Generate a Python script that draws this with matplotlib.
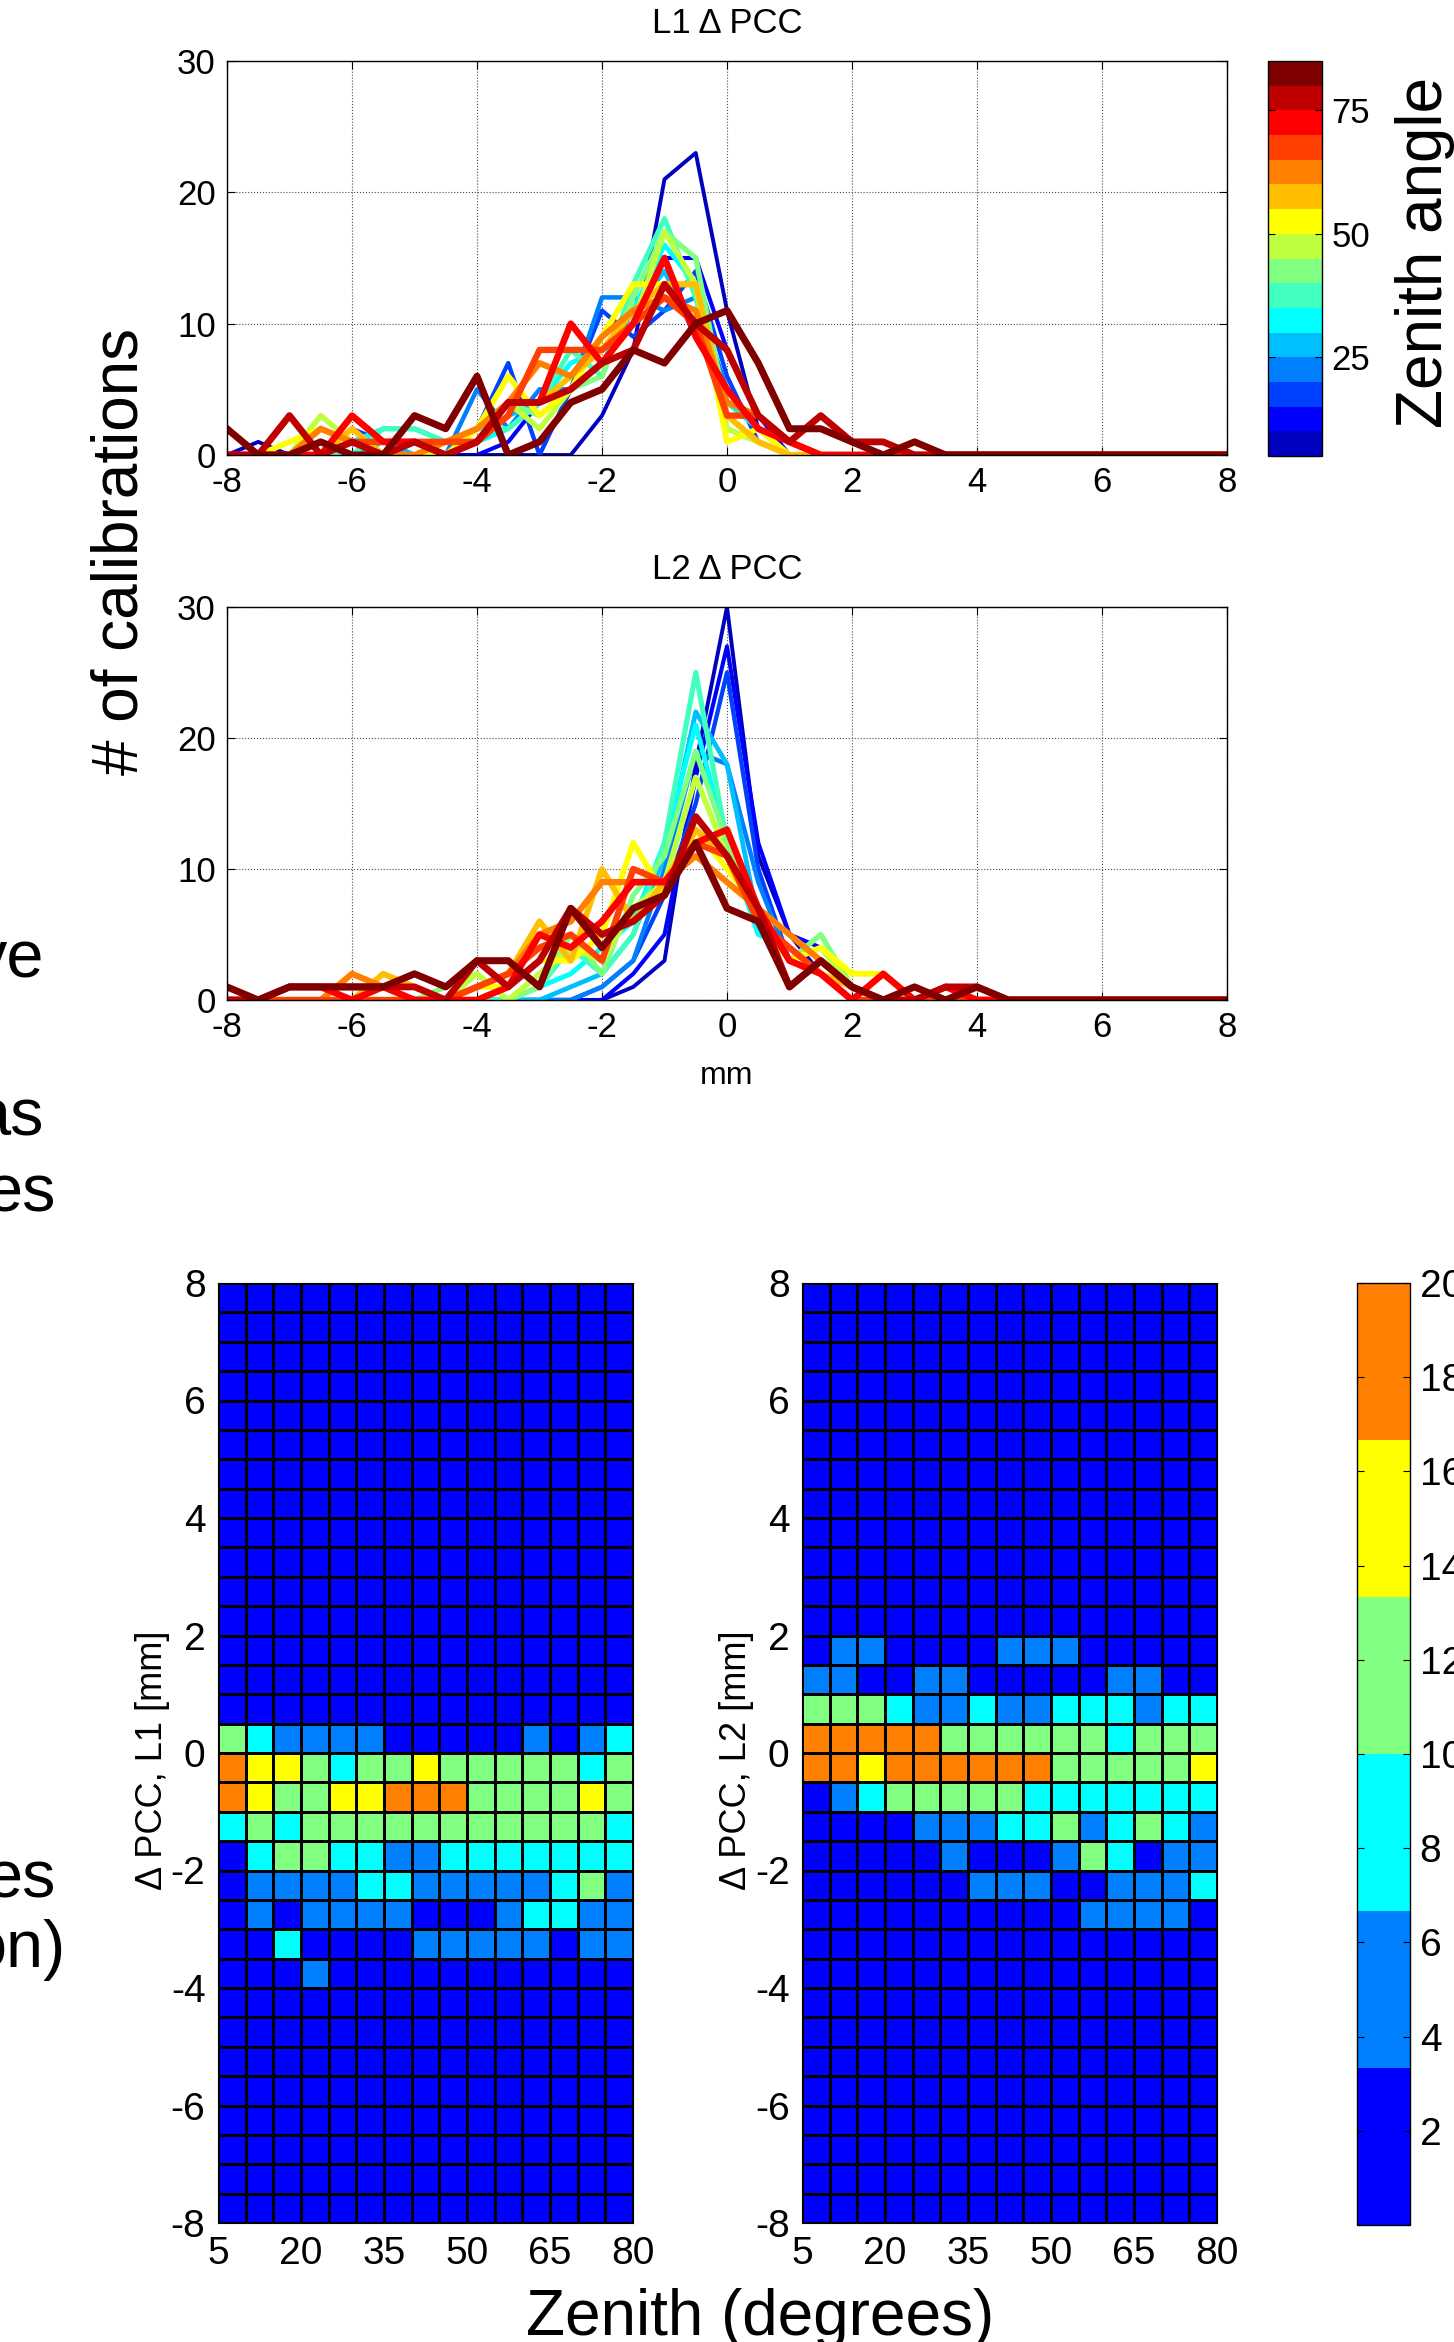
import numpy as np
import matplotlib
matplotlib.use('Agg')
import matplotlib.pyplot as plt
from matplotlib.colors import ListedColormap, Normalize
from matplotlib.cm import ScalarMappable

plt.rcParams['font.family'] = ['Liberation Sans', 'DejaVu Sans']
plt.rcParams['axes.unicode_minus'] = False

# delta PCC bins (mm) and zenith bins (deg)
offsets = np.arange(-8, 8.01, 0.5)
zen_edges = np.arange(5, 81, 5)

# number of calibrations per offset bin, one row per 5-deg zenith bin (5..80)
l1_counts = [
    [0,1,0,0,0,0,0,0,0,0,0,0,3,8,21,23,11,2,0,0,0,0,0,0,0,0,0,0,0,0,0,0,0],
    [0,0,0,0,1,0,0,0,0,1,4,5,7,11,15,15,8,3,0,0,0,0,0,0,0,0,0,0,0,0,0,0,0],
    [0,0,0,0,2,1,0,0,2,7,0,5,11,9,11,14,6,1,0,0,0,0,0,0,0,0,0,0,0,0,0,0,0],
    [0,0,0,0,1,0,1,0,5,2,5,5,12,12,11,12,5,2,0,0,0,0,0,0,0,0,0,0,0,0,0,0,0],
    [0,0,0,0,0,1,0,0,1,3,4,5,7,11,14,9,5,2,0,0,0,0,0,0,0,0,0,0,0,0,0,0,0],
    [0,0,0,0,1,2,2,1,1,2,4,7,8,11,16,13,4,2,0,0,0,0,0,0,0,0,0,0,0,0,0,0,0],
    [0,0,0,0,0,2,2,1,2,2,4,8,6,13,18,12,2,1,0,0,0,0,0,0,0,0,0,0,0,0,0,0,0],
    [0,0,0,0,1,0,1,0,2,4,3,5,6,12,17,15,3,1,0,0,0,0,0,0,0,0,0,0,0,0,0,0,0],
    [0,0,0,3,1,0,0,0,1,4,2,5,7,10,17,13,2,1,0,0,0,0,0,0,0,0,0,0,0,0,0,0,0],
    [0,0,1,2,1,0,0,0,2,6,3,5,9,13,13,13,1,2,0,0,0,0,0,0,0,0,0,0,0,0,0,0,0],
    [0,0,0,0,2,0,1,0,1,4,4,6,8,11,13,13,3,1,0,0,0,0,0,0,0,0,0,0,0,0,0,0,0],
    [0,0,0,2,1,0,0,1,2,4,7,6,9,11,12,11,4,3,1,0,0,0,0,0,0,0,0,0,0,0,0,0,0],
    [0,0,0,0,1,1,1,1,1,3,8,8,8,10,12,10,3,3,1,0,0,0,0,0,0,0,0,0,0,0,0,0,0],
    [0,0,0,0,3,1,1,0,1,4,4,10,7,10,15,9,5,2,1,0,0,0,0,0,0,0,0,0,0,0,0,0,0],
    [0,0,3,0,1,0,1,0,1,4,4,5,7,8,13,10,8,3,1,3,1,1,0,0,0,0,0,0,0,0,0,0,0],
    [2,0,0,1,0,0,3,2,6,0,1,4,5,8,7,10,11,7,2,2,1,0,1,0,0,0,0,0,0,0,0,0,0],
]

l2_counts = [
    [0,0,0,0,0,0,0,0,0,0,0,0,0,1,3,18,30,11,5,2,1,0,0,0,0,0,0,0,0,0,0,0,0],
    [0,0,0,0,0,0,0,0,0,0,0,0,0,2,5,17,27,12,5,4,1,0,0,0,0,0,0,0,0,0,0,0,0],
    [0,0,0,0,0,0,0,0,0,0,0,0,1,3,8,15,25,10,3,4,1,0,0,0,0,0,0,0,0,0,0,0,0],
    [0,0,0,0,0,0,0,0,0,0,0,0,1,3,10,19,18,9,3,2,0,0,0,0,0,0,0,0,0,0,0,0,0],
    [0,0,0,0,0,0,0,0,0,0,0,1,2,5,11,22,18,6,4,2,1,0,0,0,0,0,0,0,0,0,0,0,0],
    [0,0,0,0,0,0,0,0,0,0,1,2,4,6,12,21,12,5,4,2,0,0,0,0,0,0,0,0,0,0,0,0,0],
    [0,0,0,0,0,0,0,0,0,0,1,4,2,5,12,25,12,7,3,2,0,0,0,0,0,0,0,0,0,0,0,0,0],
    [0,0,0,0,0,0,0,1,2,0,1,5,2,8,11,19,12,6,3,5,1,0,0,0,0,0,0,0,0,0,0,0,0],
    [0,0,0,0,0,0,0,0,2,0,2,4,3,7,9,17,11,6,3,4,1,0,0,0,0,0,0,0,0,0,0,0,0],
    [0,0,0,0,0,0,0,0,1,1,3,3,5,12,8,13,10,7,3,4,2,2,0,0,0,0,0,0,0,0,0,0,0],
    [0,0,0,0,0,2,1,0,1,2,6,3,10,6,9,13,11,7,3,2,1,0,0,0,0,0,0,0,0,0,0,0,0],
    [0,0,0,0,2,1,0,0,1,2,5,6,9,9,9,11,9,7,5,3,1,0,0,0,0,0,0,0,0,0,0,0,0],
    [0,0,0,0,0,0,0,0,1,2,4,5,3,10,9,12,11,6,4,2,0,0,0,0,0,0,0,0,0,0,0,0,0],
    [0,0,1,1,0,1,0,0,0,1,5,4,6,9,9,12,13,7,3,2,0,2,0,1,0,0,0,0,0,0,0,0,0],
    [0,0,1,1,1,1,1,0,3,1,3,7,5,6,8,14,11,7,1,3,1,0,0,1,1,0,0,0,0,0,0,0,0],
    [1,0,1,1,1,1,2,1,3,3,1,7,4,7,8,12,7,6,1,3,1,0,1,0,1,0,0,0,0,0,0,0,0],
]

x_ticks = [-8, -6, -4, -2, 0, 2, 4, 6, 8]
y_ticks = [0, 10, 20, 30]
zen_ticks = [5, 20, 35, 50, 65, 80]
off_ticks = [-8, -6, -4, -2, 0, 2, 4, 6, 8]
zen_cbar_ticks = [25, 50, 75]
cnt_cbar_ticks = [2, 4, 6, 8, 10, 12, 14, 16, 18, 20]


def jet(m):
    # same construction as MATLAB's jet(m)
    n = int(np.ceil(m / 4))
    u = np.r_[np.arange(1, n + 1) / n, np.ones(n - 1), np.arange(n, 0, -1) / n]
    g = int(np.ceil(n / 2)) - int(m % 4 == 1) + np.arange(1, len(u) + 1)
    r = g + n
    b = g - n
    g = g[g <= m]
    r = r[r <= m]
    b = b[b >= 1]
    J = np.zeros((m, 3))
    J[r - 1, 0] = u[:len(r)]
    J[g - 1, 1] = u[:len(g)]
    J[b - 1, 2] = u[len(u) - len(b):]
    return J


W, H = 1454, 2342


def rect(l, t, r, b):
    return [l / W, 1 - b / H, (r - l) / W, (b - t) / H]


line_cmap = ListedColormap(jet(16))
grid_cmap = ListedColormap(jet(6))
zen_norm = Normalize(5, 85)
cnt_norm = Normalize(0, 20)

fig = plt.figure(figsize=(W / 100, H / 100), dpi=100)


def line_panel(box, counts, title):
    ax = fig.add_axes(rect(*box))
    for i, row in enumerate(counts):
        ax.plot(offsets, row, color=line_cmap(i), lw=2.8 + 0.15 * i)
    ax.set_xlim(-8, 8)
    ax.set_ylim(0, 30)
    ax.set_xticks(x_ticks)
    ax.set_yticks(y_ticks)
    ax.grid(True, ls=':', color='0.3', lw=0.8)
    ax.tick_params(direction='in', top=True, right=True, length=6,
                   labelsize=25, pad=8)
    for s in ax.spines.values():
        s.set_linewidth(1.0)
    ax.set_title(title, fontsize=25, pad=20)
    return ax


def grid_panel(box, counts, ylabel, lab_x):
    ax = fig.add_axes(rect(*box))
    c = np.asarray(counts)[:15, :32].T
    ax.pcolormesh(zen_edges, offsets, c, cmap=grid_cmap, norm=cnt_norm,
                  edgecolors='k', linewidth=1.0)
    ax.set_xlim(5, 80)
    ax.set_ylim(-8, 8)
    ax.set_xticks(zen_ticks)
    ax.set_yticks(off_ticks)
    ax.tick_params(direction='in', length=0, labelsize=28, pad=9)
    fig.text(lab_x / W, 1 - 1760 / H, ylabel, rotation=90, rotation_mode='anchor',
             ha='center', va='baseline', fontsize=26)
    return ax


def colorbar(box, cmap, norm, ticks, size):
    cax = fig.add_axes(rect(*box))
    cb = fig.colorbar(ScalarMappable(norm=norm, cmap=cmap), cax=cax, ticks=ticks)
    cb.outline.set_linewidth(1.0)
    cax.tick_params(direction='in', left=True, right=True, labelleft=False,
                    labelright=True, length=5, labelsize=size, pad=7)
    return cb


line_panel((227, 61, 1227, 455), l1_counts, 'L1 \u0394 PCC')
ax2 = line_panel((227, 607, 1227, 1000), l2_counts, 'L2 \u0394 PCC')
ax2.set_xlabel('mm', fontsize=23, labelpad=12)
colorbar((1268, 61, 1322, 456), line_cmap, zen_norm, zen_cbar_ticks, 25)

grid_panel((218, 1283, 633, 2223), l1_counts, '\u0394 PCC, L1 [mm]', 162)
grid_panel((802, 1283, 1217, 2223), l2_counts, '\u0394 PCC, L2 [mm]', 746)
colorbar((1357, 1283, 1410, 2225), grid_cmap, cnt_norm, cnt_cbar_ticks, 28)

# large slide labels
big = 46
fig.text(137 / W, 1 - 552 / H, '# of calibrations', rotation=90,
         rotation_mode='anchor', ha='center', va='baseline', fontsize=big)
fig.text(1442 / W, 1 - 252 / H, 'Zenith angle', rotation=90,
         rotation_mode='anchor', ha='center', va='baseline', fontsize=big)
fig.text(760 / W, 1 - 2335 / H, 'Zenith (degrees)', ha='center',
         va='baseline', fontsize=big)

# text running in from the left edge of the slide
side = 48
for s, xr, yb in [('ve', 44, 978), ('as', 43, 1135), ('es', 56, 1212),
                  ('es', 56, 1898), ('on)', 66, 1967)]:
    fig.text(xr / W, 1 - yb / H, s, ha='right', va='baseline', fontsize=side)

fig.savefig('out.png', dpi=100)
